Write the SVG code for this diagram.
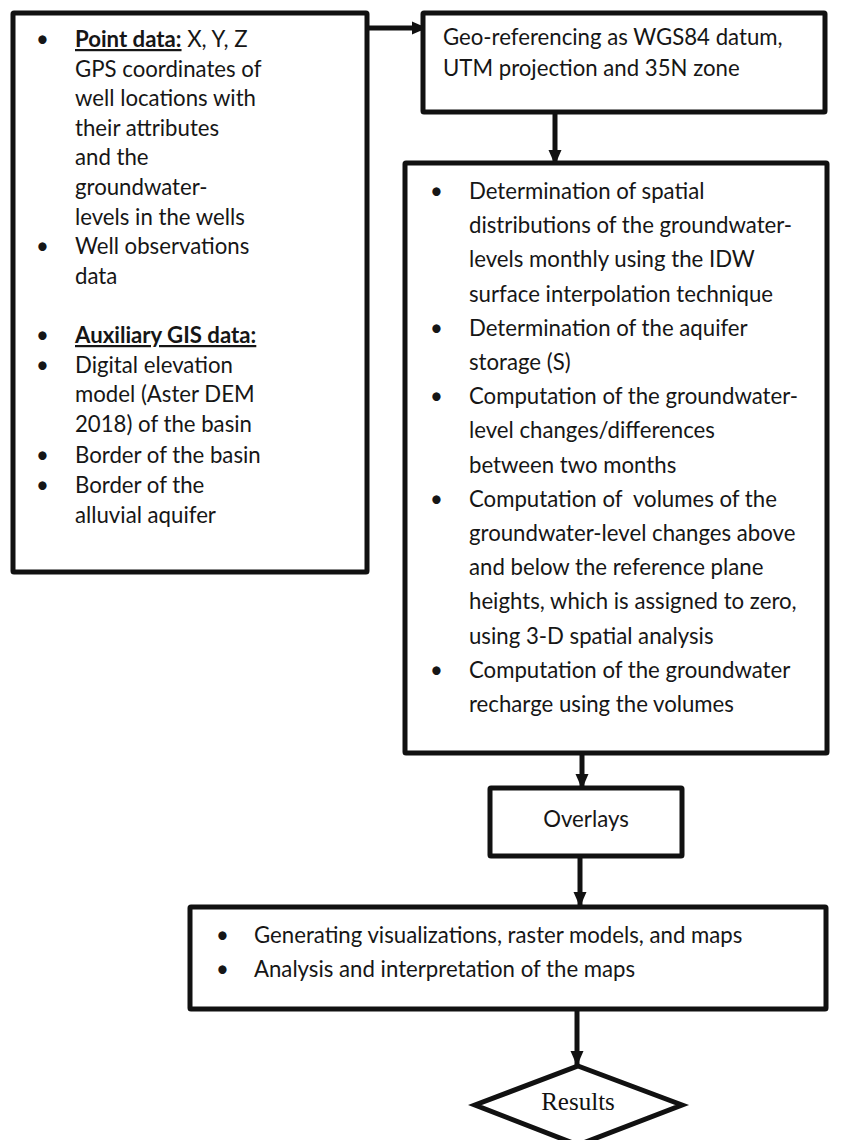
<svg xmlns="http://www.w3.org/2000/svg" width="841" height="1140" viewBox="0 0 841 1140">
<defs>
<marker id="ah" markerUnits="userSpaceOnUse" markerWidth="16" markerHeight="16" viewBox="0 0 16 16" refX="15" refY="8" orient="auto">
<path d="M0,1.5 L15,8 L0,14.5 Z" fill="#111"/>
</marker>
<style>
.box{fill:#fff;stroke:#111;stroke-width:5;}
.t{font-family:Lato,"Liberation Sans",sans-serif;font-size:22.2px;fill:#161616;white-space:pre;}
.b{font-weight:bold;text-decoration:underline;}
.c{fill:none;stroke:#111;stroke-width:5;}
.r{font-family:"Liberation Serif",serif;font-size:25px;fill:#111;}
</style>
</defs>
<rect width="841" height="1140" fill="#fff"/>
<g id="connectors">
<path class="c" d="M367,28 H427" marker-end="url(#ah)"/>
<path class="c" d="M555,112 V165" marker-end="url(#ah)"/>
<path class="c" d="M582,753 V789" marker-end="url(#ah)"/>
<path class="c" d="M580,857 V907" marker-end="url(#ah)"/>
<path class="c" d="M577,1009 V1066" marker-end="url(#ah)"/>
</g>
<g id="inputs">
<rect class="box" x="13" y="13" width="354" height="559" rx="1"/>
<text class="t" x="36" y="47">•</text>
<text class="t" x="75" y="47"><tspan class="b">Point data:</tspan> X, Y, Z</text>
<text class="t" x="75" y="76.6">GPS coordinates of</text>
<text class="t" x="75" y="106.2">well locations with</text>
<text class="t" x="75" y="135.8">their attributes</text>
<text class="t" x="75" y="165.4">and the</text>
<text class="t" x="75" y="195">groundwater-</text>
<text class="t" x="75" y="224.6">levels in the wells</text>
<text class="t" x="36" y="254.2">•</text>
<text class="t" x="75" y="254.2">Well observations</text>
<text class="t" x="75" y="283.8">data</text>
<text class="t" x="36" y="343">•</text>
<text class="t b" x="75" y="343">Auxiliary GIS data:</text>
<text class="t" x="36" y="372.6">•</text>
<text class="t" x="75" y="372.6">Digital elevation</text>
<text class="t" x="75" y="402.2">model (Aster DEM</text>
<text class="t" x="75" y="432">2018) of the basin</text>
<text class="t" x="36" y="463">•</text>
<text class="t" x="75" y="463">Border of the basin</text>
<text class="t" x="36" y="493">•</text>
<text class="t" x="75" y="493">Border of the</text>
<text class="t" x="75" y="522.5">alluvial aquifer</text>
</g>
<g id="georef">
<rect class="box" x="423" y="13" width="402" height="99" rx="1"/>
<text class="t" x="443" y="45">Geo-referencing as WGS84 datum,</text>
<text class="t" x="443" y="76">UTM projection and 35N zone</text>
</g>
<g id="processing">
<rect class="box" x="405" y="163" width="422" height="590" rx="1"/>
<text class="t" x="430" y="199">•</text>
<text class="t" x="469" y="199">Determination of spatial</text>
<text class="t" x="469" y="233.2">distributions of the groundwater-</text>
<text class="t" x="469" y="267.4">levels monthly using the IDW</text>
<text class="t" x="469" y="301.6">surface interpolation technique</text>
<text class="t" x="430" y="335.8">•</text>
<text class="t" x="469" y="335.8">Determination of the aquifer</text>
<text class="t" x="469" y="370">storage (S)</text>
<text class="t" x="430" y="404.2">•</text>
<text class="t" x="469" y="404.2">Computation of the groundwater-</text>
<text class="t" x="469" y="438.4">level changes/differences</text>
<text class="t" x="469" y="472.6">between two months</text>
<text class="t" x="430" y="506.8">•</text>
<text class="t" x="469" y="506.8">Computation of  volumes of the</text>
<text class="t" x="469" y="541">groundwater-level changes above</text>
<text class="t" x="469" y="575.2">and below the reference plane</text>
<text class="t" x="469" y="609.4">heights, which is assigned to zero,</text>
<text class="t" x="469" y="643.6">using 3-D spatial analysis</text>
<text class="t" x="430" y="677.8">•</text>
<text class="t" x="469" y="677.8">Computation of the groundwater</text>
<text class="t" x="469" y="712">recharge using the volumes</text>
</g>
<g id="overlays">
<rect class="box" x="490" y="788" width="192" height="68" rx="1"/>
<text class="t" x="586" y="827" text-anchor="middle">Overlays</text>
</g>
<g id="outputs">
<rect class="box" x="190" y="907" width="636" height="102" rx="1"/>
<text class="t" x="216" y="943">•</text>
<text class="t" x="254" y="943">Generating visualizations, raster models, and maps</text>
<text class="t" x="216" y="977">•</text>
<text class="t" x="254" y="977">Analysis and interpretation of the maps</text>
</g>
<g id="results">
<path d="M578,1066 L682,1105 L578,1145 L475,1105 Z" fill="#fff" stroke="#111" stroke-width="5" stroke-linejoin="miter"/>
<text class="r" x="578" y="1110" text-anchor="middle">Results</text>
</g>
</svg>
